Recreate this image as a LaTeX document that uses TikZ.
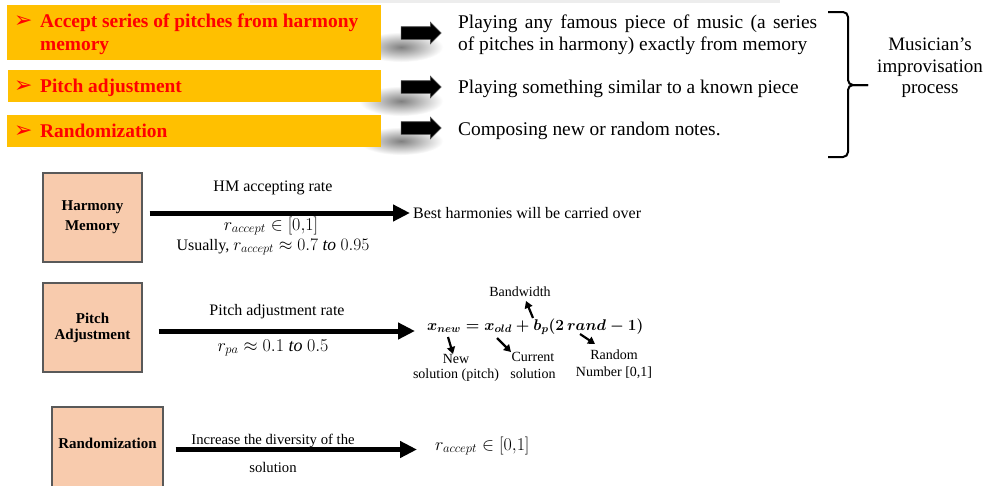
\documentclass[tikz,border=0pt]{standalone}
\usepackage{fix-cm}
\usepackage{amsmath}
\usepackage{fontspec}
\setmainfont{Liberation Serif}
\newfontfamily\hssymfont{DejaVu Sans}
\usetikzlibrary{shapes.arrows,arrows.meta,calc}

\definecolor{hsyellow}{HTML}{FFC000}
\definecolor{hsred}{HTML}{FF0000}
\definecolor{hspeach}{HTML}{F8CBAD}

\newcommand{\hsformula}{$\boldsymbol{x_{new} = x_{old} + b_p(2\,rand - 1)}$}

\tikzset{
  ybox/.style={fill=hsyellow, draw=none, anchor=north west, inner sep=0pt},
  redtxt/.style={anchor=base west, inner sep=0pt, text=hsred, font=\fontsize{19.4}{23}\selectfont\bfseries},
  bullet/.style={anchor=base west, inner sep=0pt, text=hsred, font=\hssymfont\fontsize{22}{24}\selectfont},
  blockarrow/.style={single arrow, fill=black, draw=black!70, line width=0.6pt, inner xsep=0pt, inner ysep=6pt,
    minimum height=40pt, single arrow head extend=4.5pt},
  blur/.style={shade, inner color=black!50, outer color=white},
  desc/.style={anchor=base west, inner sep=0pt, font=\fontsize{19.4}{23}\selectfont},
  bracestyle/.style={line width=2pt, rounded corners=5pt},
  peach/.style={draw=black!65, line width=1.2pt, fill=hspeach, inner sep=0pt, align=center},
  boldlbl/.style={font=\fontsize{15}{20}\selectfont\bfseries},
  lbl/.style={inner sep=0pt, font=\fontsize{16}{19}\selectfont},
  mathlbl/.style={inner sep=0pt, font=\fontsize{18}{20}\selectfont},
  formlbl/.style={inner sep=0pt, font=\fontsize{15.5}{20}\selectfont},
  smalllbl/.style={inner sep=0pt, align=center, font=\fontsize{14}{17}\selectfont},
  bigarrow/.style={line width=5pt, -{Triangle[length=17pt,width=16pt]}},
  smallarrow/.style={line width=2.2pt, -{Triangle[length=7pt,width=8pt]}},
}

\begin{document}
\begin{tikzpicture}[x=1pt,y=-1pt]
\useasboundingbox (0,0) rectangle (986,485);
\fill[white] (0,0) rectangle (986,485);
\fill[black!7] (250,0) rectangle (780,3);

% soft shadows of the block arrows
\path[blur] (401,47) ellipse [x radius=42pt, y radius=15pt];
\path[blur] (401,101) ellipse [x radius=42pt, y radius=15pt];
\path[blur] (401,141) ellipse [x radius=42pt, y radius=14pt];

% yellow boxes
\node[ybox, minimum width=374pt, minimum height=55pt] (y1) at (7,5) {};
\node[ybox, minimum width=373pt, minimum height=32pt] (y2) at (8,70) {};
\node[ybox, minimum width=374pt, minimum height=32pt] (y3) at (7,115) {};

\node[bullet] (b1) at (14,27) {➢};
\node[bullet] (b2) at (14,92) {➢};
\node[bullet] (b3) at (14,137) {➢};
\node[redtxt] (t1a) at (40,27) {Accept series of pitches from harmony};
\node[redtxt] (t1b) at (40,50) {memory};
\node[redtxt] (t2) at (40,92) {Pitch adjustment};
\node[redtxt] (t3) at (40,137) {Randomization};

% block arrows
\node[blockarrow] (a1) at (418,33) {};
\node[blockarrow] (a2) at (418,87) {};
\node[blockarrow] (a3) at (418,128) {};

% descriptions
\node[desc] (d1a) at (458,28) {\makebox[359pt][s]{Playing any famous piece of music (a series}};
\node[desc] (d1b) at (458,50) {of pitches in harmony) exactly from memory};
\node[desc] (d2) at (458,93) {Playing something similar to a known piece};
\node[desc] (d3) at (458,135) {Composing new or random notes.};

% brace
\coordinate (btop) at (828,12);
\coordinate (btip) at (868,85);
\coordinate (bbot) at (828,157);
\draw[bracestyle] (btop) -- (848,12) -- (848,85) -- (btip);
\draw[bracestyle] (btip) -- (848,85) -- (848,157) -- (bbot);
\node[align=center, inner sep=0pt, font=\fontsize{19}{21.5}\selectfont] (mus) at (930,68) {Musician’s\\improvisation\\process};

% lower part
\node[peach, boldlbl, minimum width=99pt, minimum height=89pt] (hm) at (92.5,217.5) {Harmony\\Memory};
\node[peach, font=\fontsize{15}{16}\selectfont\bfseries, minimum width=99pt, minimum height=89pt] (pa) at (92.5,327.5) {Pitch\\Adjustment};
\node[peach, boldlbl, minimum width=111pt, minimum height=90pt, text depth=18pt] (rd) at (107.5,452) {Randomization};

% harmony memory row
\node[lbl, anchor=west] (best) at (413,213) {Best harmonies will be carried over};
\draw[bigarrow] ($(hm.east)+(7,-4.5)$) -- ($(best.west)+(-3,0)$);
\node[lbl] (hmr) at (273,188) {HM accepting rate};
\node[mathlbl] (hmm) at (271,226) {$r_{accept}\in[0{,}1]$};
\node[lbl, anchor=base] (hmu) at (273,250) {Usually, {\fontsize{17.5}{19}\selectfont$r_{accept}\approx 0.7~\mathit{to}~0.95$}};

% pitch adjustment row
\node[formlbl, anchor=west] (form) at (427,327) {\hsformula};
\draw[bigarrow] ($(pa.east)+(16,3.5)$) -- ($(form.west)+(-12,4)$);
\node[lbl] (par) at (277,312) {Pitch adjustment rate};
\node[mathlbl] (pam) at (273,348) {$r_{pa}\approx 0.1~\mathit{to}~0.5$};

\node[smalllbl] (bw) at (520,292) {Bandwidth};
\node[smalllbl, font=\fontsize{14}{15}\selectfont] (newl) at (456,368) {New\\solution (pitch)};
\node[smalllbl] (curl) at (533,365) {Current\\solution};
\node[smalllbl] (rndl) at (614,364) {Random\\Number [0,1]};

\coordinate (bwfrom) at (533,318);
\coordinate (bwto) at (526,301);
\coordinate (newfrom) at (448,337);
\coordinate (newto) at (453,354);
\coordinate (curfrom) at (497,338);
\coordinate (curto) at (511,352);
\coordinate (rndfrom) at (580,334);
\coordinate (rndto) at (595,344);
\draw[smallarrow] (bwfrom) -- (bwto);
\draw[smallarrow] (newfrom) -- (newto);
\draw[smallarrow] (curfrom) -- (curto);
\draw[smallarrow] (rndfrom) -- (rndto);

% randomization row
\node[mathlbl, anchor=west] (rdm) at (435,446) {$r_{accept}\in[0{,}1]$};
\draw[bigarrow] ($(rd.east)+(12,-2.5)$) -- ($(rdm.west)+(-18,3.5)$);
\node[lbl, font=\fontsize{14.7}{17}\selectfont, anchor=base] (rdi) at (273,444) {Increase the diversity of the};
\node[lbl, font=\fontsize{14.7}{17}\selectfont] (rds) at (273,467) {solution};
\end{tikzpicture}
\end{document}
